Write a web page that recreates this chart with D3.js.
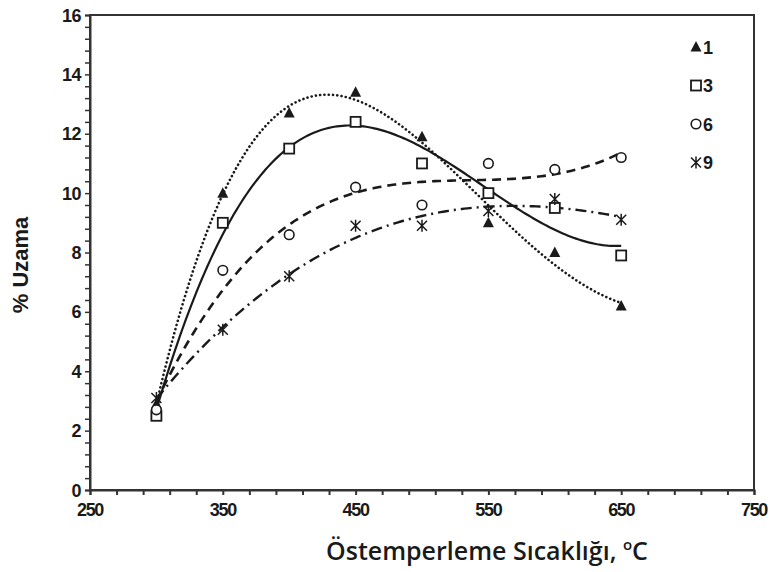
<!DOCTYPE html>
<html><head><meta charset="utf-8">
<script src="https://cdn.jsdelivr.net/npm/d3@7"></script>
<style>body{margin:0;background:#fff}svg{display:block}</style>
</head><body><svg id="c" width="771" height="572"></svg>
<script>
const temps = [300, 350, 400, 450, 500, 550, 600, 650];
const s1 = [2.9, 10.0, 12.7, 13.4, 11.9, 9.0, 8.0, 6.2];
const s3 = [2.5, 9.0, 11.5, 12.4, 11.0, 10.0, 9.5, 7.9];
const s6 = [2.7, 7.4, 8.6, 10.2, 9.6, 11.0, 10.8, 11.2];
const s9 = [3.1, 5.4, 7.2, 8.9, 8.9, 9.4, 9.8, 9.1];
const seriesNames = ["1", "3", "6", "9"];
const xTickLabels = [250, 350, 450, 550, 650, 750];
const yTickLabels = [0, 2, 4, 6, 8, 10, 12, 14, 16];
const xLabel = "Östemperleme Sıcaklığı, ";
const yLabel = "% Uzama";

const series = [
  {name: seriesNames[0], values: s1, marker: "tri", dash: "0.1,4.2", width: 2.6, deg: 4},
  {name: seriesNames[1], values: s3, marker: "sq", dash: null, width: 2.2, deg: 3},
  {name: seriesNames[2], values: s6, marker: "ci", dash: "9,6", width: 2.6, deg: 3},
  {name: seriesNames[3], values: s9, marker: "st", dash: "11,5,2,5", width: 2.4, deg: 3}
];

const L = 90, R = 754, T = 15, B = 490;
const svg = d3.select("#c");
const x = d3.scaleLinear().domain([250, 750]).range([L, R]);
const y = d3.scaleLinear().domain([0, 16]).range([B, T]);
const ink = "#1a1a1a";
const arial = "'Liberation Sans', Arial, Helvetica, sans-serif";

// frame
svg.append("rect").attr("x", L).attr("y", T).attr("width", R - L).attr("height", B - T)
  .attr("fill", "none").attr("stroke", "#333").attr("stroke-width", 2);

// x axis
const xAxis = d3.axisBottom(x).tickValues(d3.range(250, 751, 20)).tickSize(5).tickFormat("");
const gx = svg.append("g").attr("transform", `translate(0,${B})`).call(xAxis);
gx.select(".domain").attr("stroke", "#333").attr("stroke-width", 2);
gx.selectAll(".tick line").attr("stroke", "#333").attr("stroke-width", 2);
svg.append("g").selectAll("text").data(xTickLabels).join("text")
  .attr("x", d => x(d)).attr("y", 516).attr("text-anchor", "middle")
  .attr("font-family", arial).attr("font-weight", "bold")
  .attr("font-size", 18).attr("letter-spacing", -1.3).attr("fill", ink).text(d => d);

// y axis
const yAxis = d3.axisLeft(y).tickValues(d3.range(0, 16.01, 0.4)).tickSize(5).tickFormat("");
const gy = svg.append("g").attr("transform", `translate(${L},0)`).call(yAxis);
gy.select(".domain").attr("stroke", "#333").attr("stroke-width", 2);
gy.selectAll(".tick line").attr("stroke", "#333").attr("stroke-width", 1.5);
svg.append("g").selectAll("text").data(yTickLabels).join("text")
  .attr("x", 81).attr("y", d => y(d) + 6.5).attr("text-anchor", "end")
  .attr("font-family", arial).attr("font-weight", "bold")
  .attr("font-size", 18).attr("letter-spacing", -0.5).attr("fill", ink).text(d => d);

// axis titles
svg.append("text").attr("transform", "translate(28,265) rotate(-90)").attr("text-anchor", "middle")
  .attr("font-family", arial).attr("font-weight", "bold")
  .attr("font-size", 22).attr("fill", ink).text(yLabel);
const xt = svg.append("text").attr("x", 487).attr("y", 560).attr("text-anchor", "middle")
  .attr("font-family", "'Open Sans', sans-serif").attr("font-weight", 600)
  .attr("font-size", 25).attr("fill", ink);
xt.append("tspan").text(xLabel);
xt.append("tspan").attr("dy", -10).attr("font-size", 15).text("o");
xt.append("tspan").attr("dy", 10).text("C");

// polynomial least squares fit
function polyfit(xs, ys, deg) {
  const n = deg + 1;
  const A = Array.from({length: n}, () => new Array(n + 1).fill(0));
  xs.forEach((xv, k) => {
    for (let i = 0; i < n; i++) {
      for (let j = 0; j < n; j++) A[i][j] += Math.pow(xv, i + j);
      A[i][n] += ys[k] * Math.pow(xv, i);
    }
  });
  for (let i = 0; i < n; i++) {
    let p = i;
    for (let r = i + 1; r < n; r++) if (Math.abs(A[r][i]) > Math.abs(A[p][i])) p = r;
    [A[i], A[p]] = [A[p], A[i]];
    for (let r = 0; r < n; r++) {
      if (r === i) continue;
      const f = A[r][i] / A[i][i];
      for (let c = i; c <= n; c++) A[r][c] -= f * A[i][c];
    }
  }
  return A.map((row, i) => row[n] / row[i]);
}
const norm = t => (t - 475) / 175;

const line = d3.line().x(d => x(d[0])).y(d => y(d[1])).curve(d3.curveLinear);
series.forEach(s => {
  const coef = polyfit(temps.map(norm), s.values, s.deg);
  const pts = d3.range(300, 650.01, 2).map(t => {
    const u = norm(t);
    return [t, coef.reduce((a, c, i) => a + c * Math.pow(u, i), 0)];
  });
  const p = svg.append("path").datum(pts).attr("d", line).attr("fill", "none")
    .attr("stroke", ink).attr("stroke-width", s.width);
  if (s.dash) p.attr("stroke-dasharray", s.dash);
  if (s.marker === "tri") p.attr("stroke-linecap", "round");
});

function drawMarker(g, type, cx, cy) {
  if (type === "tri") {
    g.append("path").attr("d", `M${cx},${cy - 6}L${cx + 5.5},${cy + 4.5}L${cx - 5.5},${cy + 4.5}Z`).attr("fill", ink);
  } else if (type === "sq") {
    g.append("rect").attr("x", cx - 5).attr("y", cy - 5).attr("width", 10).attr("height", 10)
      .attr("fill", "#fff").attr("stroke", ink).attr("stroke-width", 1.8);
  } else if (type === "ci") {
    g.append("circle").attr("cx", cx).attr("cy", cy).attr("r", 4.8)
      .attr("fill", "#fff").attr("stroke", ink).attr("stroke-width", 1.6);
  } else {
    const r = 6;
    g.append("path").attr("d",
      `M${cx},${cy - r}V${cy + r}M${cx - 5},${cy - 5}L${cx + 5},${cy + 5}M${cx + 5},${cy - 5}L${cx - 5},${cy + 5}`)
      .attr("stroke", ink).attr("stroke-width", 1.5).attr("fill", "none");
  }
}
const gm = svg.append("g");
series.forEach(s => {
  s.values.forEach((v, i) => drawMarker(gm, s.marker, x(temps[i]), y(v)));
});

// legend
const lg = svg.append("g");
series.forEach((s, i) => {
  const ly = 47 + i * 38.5;
  drawMarker(lg, s.marker, 696, ly);
  lg.append("text").attr("x", 703).attr("y", ly + 6.5).attr("font-family", arial)
    .attr("font-weight", "bold").attr("font-size", 18).attr("fill", ink).text(s.name);
});
</script></body></html>
